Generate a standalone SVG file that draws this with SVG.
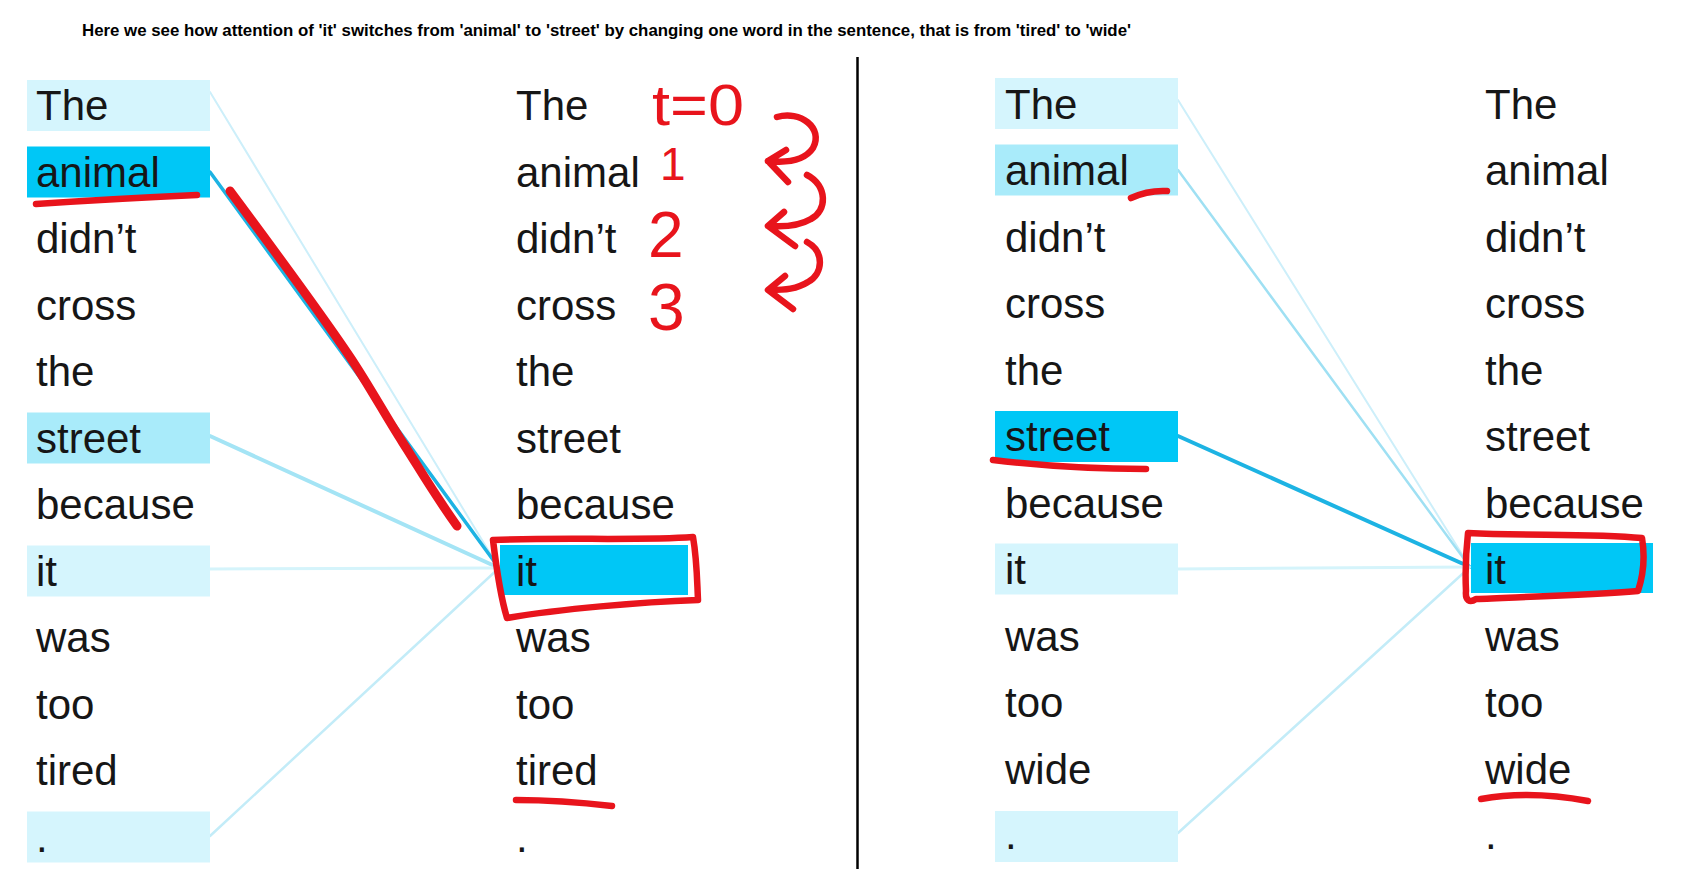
<svg xmlns="http://www.w3.org/2000/svg" width="1708" height="891" viewBox="0 0 1708 891">
<style>
.w{font-family:"Liberation Sans",Arial,sans-serif;font-size:42px;fill:#161616}
.hdr{font-family:"Liberation Sans",Arial,sans-serif;font-size:17px;font-weight:bold;fill:#000}
.bl{fill:#d5f5fd}
.bm{fill:#a9ebfa}
.bs{fill:#00c7f6}
.c{fill:none;stroke-linecap:round}
.ink{fill:none;stroke:#e8141c;stroke-width:6.5;stroke-linecap:round;stroke-linejoin:round}
.thick{stroke-width:9}
.num{font-family:"Liberation Sans",Arial,sans-serif;fill:#e8141c}
</style>
<rect width="1708" height="891" fill="#fff"/>
<text class="hdr" x="82" y="36" textLength="1049" lengthAdjust="spacingAndGlyphs">Here we see how attention of 'it' switches from 'animal' to 'street' by changing one word in the sentence, that is from 'tired' to 'wide'</text>
<line x1="857.5" y1="57" x2="857.5" y2="869" stroke="#000" stroke-width="2.5"/>

<!-- connectors -->
<g id="connectors">
<line class="c" x1="210" y1="92" x2="499" y2="568" stroke="#cdeffa" stroke-width="2"/>
<line class="c" x1="210" y1="172" x2="499" y2="568" stroke="#1db3e3" stroke-width="3.5"/>
<line class="c" x1="210" y1="436" x2="499" y2="568" stroke="#a4e4f5" stroke-width="4"/>
<line class="c" x1="210" y1="569" x2="499" y2="568" stroke="#d5f4fb" stroke-width="3"/>
<line class="c" x1="210" y1="836" x2="499" y2="568" stroke="#c3ecf8" stroke-width="2.5"/>
<line class="c" x1="1178" y1="100" x2="1470" y2="567" stroke="#cdeffa" stroke-width="2"/>
<line class="c" x1="1178" y1="170" x2="1470" y2="567" stroke="#9fe0f3" stroke-width="2.5"/>
<line class="c" x1="1178" y1="436" x2="1470" y2="567" stroke="#1db3e3" stroke-width="4"/>
<line class="c" x1="1178" y1="569" x2="1470" y2="567" stroke="#d5f4fb" stroke-width="3"/>
<line class="c" x1="1178" y1="833" x2="1470" y2="567" stroke="#c3ecf8" stroke-width="2.5"/>
</g>

<!-- left panel, source column -->
<g id="L-src-0"><rect class="bl" x="27" y="80" width="183" height="51"/><text class="w" x="36" y="120">The</text></g>
<g id="L-src-1"><rect class="bs" x="27" y="146.5" width="183" height="51"/><text class="w" x="36" y="186.5">animal</text></g>
<g id="L-src-2"><text class="w" x="36" y="253">didn’t</text></g>
<g id="L-src-3"><text class="w" x="36" y="319.5">cross</text></g>
<g id="L-src-4"><text class="w" x="36" y="386">the</text></g>
<g id="L-src-5"><rect class="bm" x="27" y="412.5" width="183" height="51"/><text class="w" x="36" y="452.5">street</text></g>
<g id="L-src-6"><text class="w" x="36" y="519">because</text></g>
<g id="L-src-7"><rect class="bl" x="27" y="545.5" width="183" height="51"/><text class="w" x="36" y="585.5">it</text></g>
<g id="L-src-8"><text class="w" x="36" y="652">was</text></g>
<g id="L-src-9"><text class="w" x="36" y="718.5">too</text></g>
<g id="L-src-10"><text class="w" x="36" y="785">tired</text></g>
<g id="L-src-11"><rect class="bl" x="27" y="811.5" width="183" height="51"/><text class="w" x="36" y="851.5">.</text></g>

<!-- left panel, target column -->
<g id="L-tgt-0"><text class="w" x="516" y="120">The</text></g>
<g id="L-tgt-1"><text class="w" x="516" y="186.5">animal</text></g>
<g id="L-tgt-2"><text class="w" x="516" y="253">didn’t</text></g>
<g id="L-tgt-3"><text class="w" x="516" y="319.5">cross</text></g>
<g id="L-tgt-4"><text class="w" x="516" y="386">the</text></g>
<g id="L-tgt-5"><text class="w" x="516" y="452.5">street</text></g>
<g id="L-tgt-6"><text class="w" x="516" y="519">because</text></g>
<g id="L-tgt-7"><rect class="bs" x="500" y="545" width="188" height="50"/><text class="w" x="516" y="585.5">it</text></g>
<g id="L-tgt-8"><text class="w" x="516" y="652">was</text></g>
<g id="L-tgt-9"><text class="w" x="516" y="718.5">too</text></g>
<g id="L-tgt-10"><text class="w" x="516" y="785">tired</text></g>
<g id="L-tgt-11"><text class="w" x="516" y="851.5">.</text></g>

<!-- right panel, source column -->
<g id="R-src-0"><rect class="bl" x="995" y="78" width="183" height="51"/><text class="w" x="1005" y="118.5">The</text></g>
<g id="R-src-1"><rect class="bm" x="995" y="144.5" width="183" height="51"/><text class="w" x="1005" y="185">animal</text></g>
<g id="R-src-2"><text class="w" x="1005" y="251.5">didn’t</text></g>
<g id="R-src-3"><text class="w" x="1005" y="318">cross</text></g>
<g id="R-src-4"><text class="w" x="1005" y="384.5">the</text></g>
<g id="R-src-5"><rect class="bs" x="995" y="411" width="183" height="51"/><text class="w" x="1005" y="451">street</text></g>
<g id="R-src-6"><text class="w" x="1005" y="517.5">because</text></g>
<g id="R-src-7"><rect class="bl" x="995" y="543.5" width="183" height="51"/><text class="w" x="1005" y="584">it</text></g>
<g id="R-src-8"><text class="w" x="1005" y="650.5">was</text></g>
<g id="R-src-9"><text class="w" x="1005" y="717">too</text></g>
<g id="R-src-10"><text class="w" x="1005" y="783.5">wide</text></g>
<g id="R-src-11"><rect class="bl" x="995" y="811" width="183" height="51"/><text class="w" x="1005" y="849">.</text></g>

<!-- right panel, target column -->
<g id="R-tgt-0"><text class="w" x="1485" y="118.5">The</text></g>
<g id="R-tgt-1"><text class="w" x="1485" y="185">animal</text></g>
<g id="R-tgt-2"><text class="w" x="1485" y="251.5">didn’t</text></g>
<g id="R-tgt-3"><text class="w" x="1485" y="318">cross</text></g>
<g id="R-tgt-4"><text class="w" x="1485" y="384.5">the</text></g>
<g id="R-tgt-5"><text class="w" x="1485" y="451">street</text></g>
<g id="R-tgt-6"><text class="w" x="1485" y="517.5">because</text></g>
<g id="R-tgt-7"><rect class="bs" x="1471" y="543" width="182" height="50"/><text class="w" x="1485" y="584">it</text></g>
<g id="R-tgt-8"><text class="w" x="1485" y="650.5">was</text></g>
<g id="R-tgt-9"><text class="w" x="1485" y="717">too</text></g>
<g id="R-tgt-10"><text class="w" x="1485" y="783.5">wide</text></g>
<g id="R-tgt-11"><text class="w" x="1485" y="849">.</text></g>

<!-- red annotations -->
<g id="annotations">
<path class="ink" d="M36,204 Q110,199 197,195"/>
<path class="ink thick" d="M230,191 C270,245 315,305 350,357 C370,387 385,415 403,443 C418,466 430,488 457,526"/>
<path class="ink" d="M493,540 C560,537 640,541 693,537 C697,560 697,580 698,600 C640,602 560,609 507,618 C500,595 496,565 493,540 Z"/>
<path class="ink" d="M516,800 Q560,800 612,806"/>
<text class="num" x="652" y="125" font-size="58" textLength="92" lengthAdjust="spacingAndGlyphs">t=0</text>
<text class="num" x="660" y="180" font-size="46">1</text>
<text class="num" x="648" y="257" font-size="64">2</text>
<text class="num" x="648" y="330" font-size="66">3</text>
<path class="ink" d="M777,117 C800,110 824,128 813,148 C805,160 787,163 768,161 M786,150 L768,161 L788,182"/>
<path class="ink" d="M807,175 C828,186 827,211 811,219 C799,226 785,227 770,226 M784,212 L768,226 L795,246"/>
<path class="ink" d="M807,242 C825,252 823,274 808,282 C797,289 785,290 770,290 M785,276 L768,290 L793,309"/>
<path class="ink" d="M1131,198 Q1148,190 1167,191"/>
<path class="ink" d="M993,460 Q1069,469 1146,469"/>
<path class="ink" d="M1468,533 C1530,536 1590,533 1642,538 C1645,556 1643,576 1638,591 C1590,595 1520,597 1476,599 C1470,603 1465,601 1466,591 C1465,571 1466,551 1468,533 Z"/>
<path class="ink" d="M1481,799 Q1530,790 1588,801"/>
</g>
</svg>
